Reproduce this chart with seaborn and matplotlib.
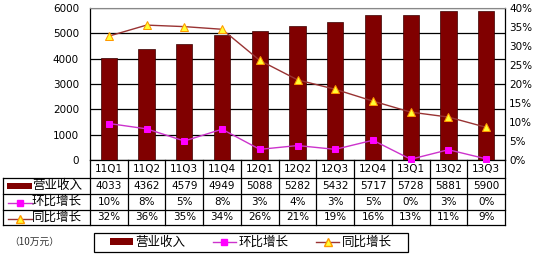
import numpy as np
import pandas as pd
import matplotlib
matplotlib.use("Agg")
import matplotlib.pyplot as plt
import seaborn as sns
from matplotlib.patches import Rectangle, Patch
from matplotlib.lines import Line2D

plt.rcParams['font.family'] = ['Noto Sans CJK SC', 'DejaVu Sans']

quarters = ["11Q1", "11Q2", "11Q3", "11Q4", "12Q1", "12Q2", "12Q3", "12Q4", "13Q1", "13Q2", "13Q3"]
revenue = [4033, 4362, 4579, 4949, 5088, 5282, 5432, 5717, 5728, 5881, 5900]
qoq = [9.6, 8.2, 5.0, 8.1, 2.8, 3.8, 2.8, 5.2, 0.2, 2.7, 0.3]
yoy = [32.6, 35.5, 35.1, 34.4, 26.2, 21.1, 18.6, 15.5, 12.6, 11.3, 8.6]
qoq_labels = ["10%", "8%", "5%", "8%", "3%", "4%", "3%", "5%", "0%", "3%", "0%"]
yoy_labels = ["32%", "36%", "35%", "34%", "26%", "21%", "19%", "16%", "13%", "11%", "9%"]
series_names = ["营业收入", "环比增长", "同比增长"]
unit_label = "（10万元）"

BAR = '#800000'
QOQ_LINE = '#CC33CC'
QOQ_MARK = '#FF00FF'
YOY_LINE = '#993333'
YOY_FACE = '#FFFF33'
YOY_EDGE = '#FF9900'
SQ = 4.5
TRI = 5.5

W, H = 534, 256
fig = plt.figure(figsize=(W / 100, H / 100), dpi=100)
fig.patch.set_facecolor('white')

L, R, T, B = 90, 505, 8, 160
ax = fig.add_axes([L / W, (H - B) / H, (R - L) / W, (B - T) / H])
df = pd.DataFrame({"q": quarters, "rev": revenue, "qoq": qoq, "yoy": yoy})
df["pos"] = range(len(df))

sns.barplot(data=df, x="q", y="rev", ax=ax, color=BAR, saturation=1, width=0.43,
            edgecolor='#3a0000', linewidth=0.5, zorder=3)
ax.set_ylim(0, 6000)
ax.set_yticks(range(0, 6001, 1000))
ax.set_xlim(-0.5, len(quarters) - 0.5)
ax.set_xticks([])
ax.set_xlabel("")
ax.set_ylabel("")
ax.grid(axis='y', color='black', linewidth=0.9, zorder=0)
ax.set_axisbelow(True)
for s in ['left', 'right', 'bottom']:
    ax.spines[s].set_color('black')
    ax.spines[s].set_linewidth(0.9)
ax.spines['top'].set_color('#888888')
ax.tick_params(axis='y', length=0, pad=8, labelsize=7.5)
for lab in ax.get_yticklabels():
    lab.set_fontfamily('DejaVu Sans')

ax2 = ax.twinx()
sns.lineplot(data=df, x="pos", y="qoq", ax=ax2, color=QOQ_LINE, linewidth=1.0,
             marker='s', markersize=SQ, markerfacecolor=QOQ_MARK, markeredgecolor=QOQ_MARK,
             clip_on=False, zorder=5)
sns.lineplot(data=df, x="pos", y="yoy", ax=ax2, color=YOY_LINE, linewidth=1.0,
             marker='^', markersize=TRI, markerfacecolor=YOY_FACE, markeredgecolor=YOY_EDGE,
             clip_on=False, zorder=5)
ax2.set_ylim(0, 40)
ax2.set_yticks(range(0, 41, 5))
ax2.set_yticklabels([f"{v}%" for v in range(0, 41, 5)])
ax2.set_xlim(-0.5, len(quarters) - 0.5)
ax2.set_xlabel("")
ax2.set_ylabel("")
ax2.tick_params(axis='y', length=0, pad=3, labelsize=7.5)
for lab in ax2.get_yticklabels():
    lab.set_fontfamily('DejaVu Sans')
for s in ax2.spines.values():
    s.set_visible(False)

# Data table below the chart
ov = fig.add_axes([0, 0, 1, 1])
ov.set_xlim(0, W)
ov.set_ylim(H, 0)
ov.axis('off')
ov.patch.set_visible(False)

n = len(quarters)
cw = (R - L) / n
xs = [L + i * cw for i in range(n + 1)]
rows_y = [B, 177.7, 194, 209.5, 225]
lc = 'black'
lw = 0.9
for yy in rows_y[1:]:
    ov.plot([3, R], [yy, yy], color=lc, lw=lw)
for x in xs:
    ov.plot([x, x], [B, rows_y[-1]], color=lc, lw=lw)
ov.plot([3, 3], [rows_y[1], rows_y[-1]], color=lc, lw=lw)

num_kw = dict(ha='center', va='center', fontsize=7.5, family='DejaVu Sans')
for i in range(n):
    cx = (xs[i] + xs[i + 1]) / 2
    ov.text(cx, (rows_y[0] + rows_y[1]) / 2 + 0.5, quarters[i], **num_kw)
    ov.text(cx, (rows_y[1] + rows_y[2]) / 2, str(revenue[i]), **num_kw)
    ov.text(cx, (rows_y[2] + rows_y[3]) / 2, qoq_labels[i], **num_kw)
    ov.text(cx, (rows_y[3] + rows_y[4]) / 2, yoy_labels[i], **num_kw)

ym1 = (rows_y[1] + rows_y[2]) / 2
ym2 = (rows_y[2] + rows_y[3]) / 2
ym3 = (rows_y[3] + rows_y[4]) / 2
ov.add_patch(Rectangle((7, ym1 - 2.5), 25, 6, facecolor=BAR, edgecolor='none'))
ov.plot([8, 32], [ym2 + 1, ym2 + 1], color=QOQ_LINE, lw=1)
ov.plot([20], [ym2 + 1], marker='s', markersize=SQ, color=QOQ_MARK)
ov.plot([8, 32], [ym3 + 2, ym3 + 2], color=YOY_LINE, lw=1)
ov.plot([20], [ym3 + 1.5], marker='^', markersize=TRI, markerfacecolor=YOY_FACE, markeredgecolor=YOY_EDGE)
for ym, name in zip([ym1, ym2, ym3], series_names):
    ov.text(32, ym, name, ha='left', va='center', fontsize=9)

ov.text(9, 242, unit_label, ha='left', va='center', fontsize=7, color='#333333')

# legend box
ov.add_patch(Rectangle((94, 233), 314, 19, facecolor='white', edgecolor='black', lw=0.9))
handles = [Patch(facecolor=BAR, edgecolor='none'),
           Line2D([], [], color=QOQ_LINE, lw=1, marker='s', markersize=SQ,
                  markerfacecolor=QOQ_MARK, markeredgecolor=QOQ_MARK),
           Line2D([], [], color=YOY_LINE, lw=1, marker='^', markersize=TRI,
                  markerfacecolor=YOY_FACE, markeredgecolor=YOY_EDGE)]
leg = fig.legend(handles, series_names, ncol=3, loc='center',
                 bbox_to_anchor=(251 / W, (H - 242.5) / H),
                 frameon=False, fontsize=9, handlelength=1.8, handleheight=0.5,
                 handletextpad=0.25, borderpad=0, columnspacing=2.2)

fig.savefig("out.png", dpi=100, facecolor='white')
